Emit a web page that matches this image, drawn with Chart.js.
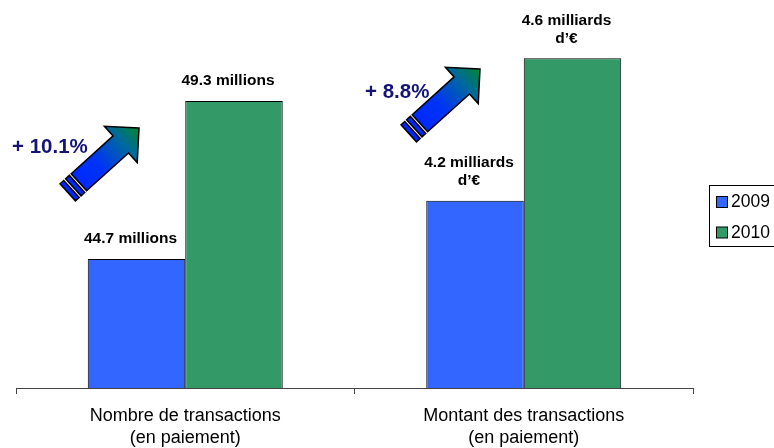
<!DOCTYPE html>
<html>
<head>
<meta charset="utf-8">
<script src="https://cdn.jsdelivr.net/npm/chart.js@4"></script>
<style>
  html, body { margin: 0; padding: 0; background: #fff; }
  #chart { display: block; }
</style>
</head>
<body>
<canvas id="chart" width="774" height="448"></canvas>
<script>
const categories = [
  ["Nombre de transactions", "(en paiement)"],
  ["Montant des transactions", "(en paiement)"],
];
const seriesNames = ["2009", "2010"];
// bar heights (the axis is hidden and not zero based)
const heights2009 = [35.8, 52.0];
const heights2010 = [79.7, 91.6];
const labels2009 = [["44.7 millions"], ["4.2 milliards", "d’€"]];
const labels2010 = [["49.3 millions"], ["4.6 milliards", "d’€"]];
const growthLabels = ["+ 10.1%", "+ 8.8%"];

const FONT = '"Liberation Sans", Arial, sans-serif';
const ctx = document.getElementById("chart");

// arrow tip and text spot for each category
const arrowSpots = [
  { tipX: 139, tipY: 128, textX: 12, textY: 147 },
  { tipX: 480, tipY: 69, textX: 365, textY: 92 },
];

function drawArrow(c, tipX, tipY) {
  const angle = Math.atan2(-65, 72);
  c.save();
  c.translate(tipX, tipY);
  c.rotate(angle);
  const grad = c.createLinearGradient(-90, 0, 0, 0);
  grad.addColorStop(0, "#0026ff");
  grad.addColorStop(0.4, "#0033f5");
  grad.addColorStop(0.75, "#0068a0");
  grad.addColorStop(1, "#00872e");
  c.fillStyle = grad;
  c.strokeStyle = "#000";
  c.lineWidth = 1.5;
  c.lineJoin = "miter";

  c.beginPath();
  c.moveTo(0, 0);
  c.lineTo(-24.5, -24.5);
  c.lineTo(-24.5, -11.5);
  c.lineTo(-81, -11.5);
  c.lineTo(-81, 11.5);
  c.lineTo(-24.5, 11.5);
  c.lineTo(-24.5, 24.5);
  c.closePath();
  c.fill();
  c.stroke();

  // tail stripes
  [[-88.5, -83.5], [-96, -91]].forEach(([a, b]) => {
    c.beginPath();
    c.rect(a, -11.5, b - a, 23);
    c.fill();
    c.stroke();
  });
  c.restore();
}

const extras = {
  id: "extras",
  afterDatasetsDraw(chart) {
    const c = chart.ctx;
    c.save();

    // value labels above bars
    const sets = [labels2009, labels2010];
    sets.forEach((labels, di) => {
      const meta = chart.getDatasetMeta(di);
      meta.data.forEach((bar, i) => {
        const lines = labels[i];
        c.font = "bold 15.5px " + FONT;
        c.fillStyle = "#000";
        c.textAlign = "center";
        c.textBaseline = "middle";
        const last = bar.y - 20;
        lines.forEach((t, k) => {
          c.fillText(t, bar.x - 6, last - (lines.length - 1 - k) * 18);
        });
      });
    });

    // growth text and arrows
    arrowSpots.forEach((s, i) => {
      c.font = "bold 20.5px " + FONT;
      c.fillStyle = "#141478";
      c.textAlign = "left";
      c.textBaseline = "middle";
      c.fillText(growthLabels[i], s.textX, s.textY);
      drawArrow(c, s.tipX, s.tipY);
    });

    // legend box
    c.strokeStyle = "#000";
    c.lineWidth = 1;
    c.strokeRect(709.5, 185.5, 80, 61);
    chart.data.datasets.forEach((ds, i) => {
      const y = 196.5 + i * 30.5;
      c.fillStyle = ds.backgroundColor;
      c.fillRect(716.5, y, 11, 11);
      c.strokeRect(716.5, y, 11, 11);
      c.fillStyle = "#000";
      c.font = "17.5px " + FONT;
      c.textAlign = "left";
      c.textBaseline = "middle";
      c.fillText(ds.label, 731, y + 6);
    });
    c.restore();
  },
};

new Chart(ctx, {
  type: "bar",
  data: {
    labels: categories,
    datasets: [
      {
        label: seriesNames[0],
        data: heights2009,
        backgroundColor: "#3366ff",
        borderColor: "#000",
        borderWidth: 1,
      },
      {
        label: seriesNames[1],
        data: heights2010,
        backgroundColor: "#339966",
        borderColor: "#000",
        borderWidth: 1,
      },
    ],
  },
  options: {
    responsive: false,
    animation: false,
    devicePixelRatio: 1,
    layout: { padding: { left: 16, right: 81, top: 28, bottom: 0 } },
    datasets: { bar: { barPercentage: 1, categoryPercentage: 0.576 } },
    plugins: {
      legend: { display: false },
      tooltip: { enabled: false },
    },
    scales: {
      x: {
        grid: {
          display: true,
          drawOnChartArea: false,
          drawTicks: true,
          tickLength: 6,
          color: "#444",
          offset: true,
        },
        border: { display: true, color: "#444", width: 1 },
        ticks: {
          color: "#000",
          padding: 11,
          maxRotation: 0,
          autoSkip: false,
          font: { family: FONT, size: 18, lineHeight: 22 / 18 },
        },
        afterFit: (scale) => {
          scale.height = 60;
        },
      },
      y: { display: false, min: 0, max: 100 },
    },
  },
  plugins: [extras],
});
</script>
</body>
</html>
